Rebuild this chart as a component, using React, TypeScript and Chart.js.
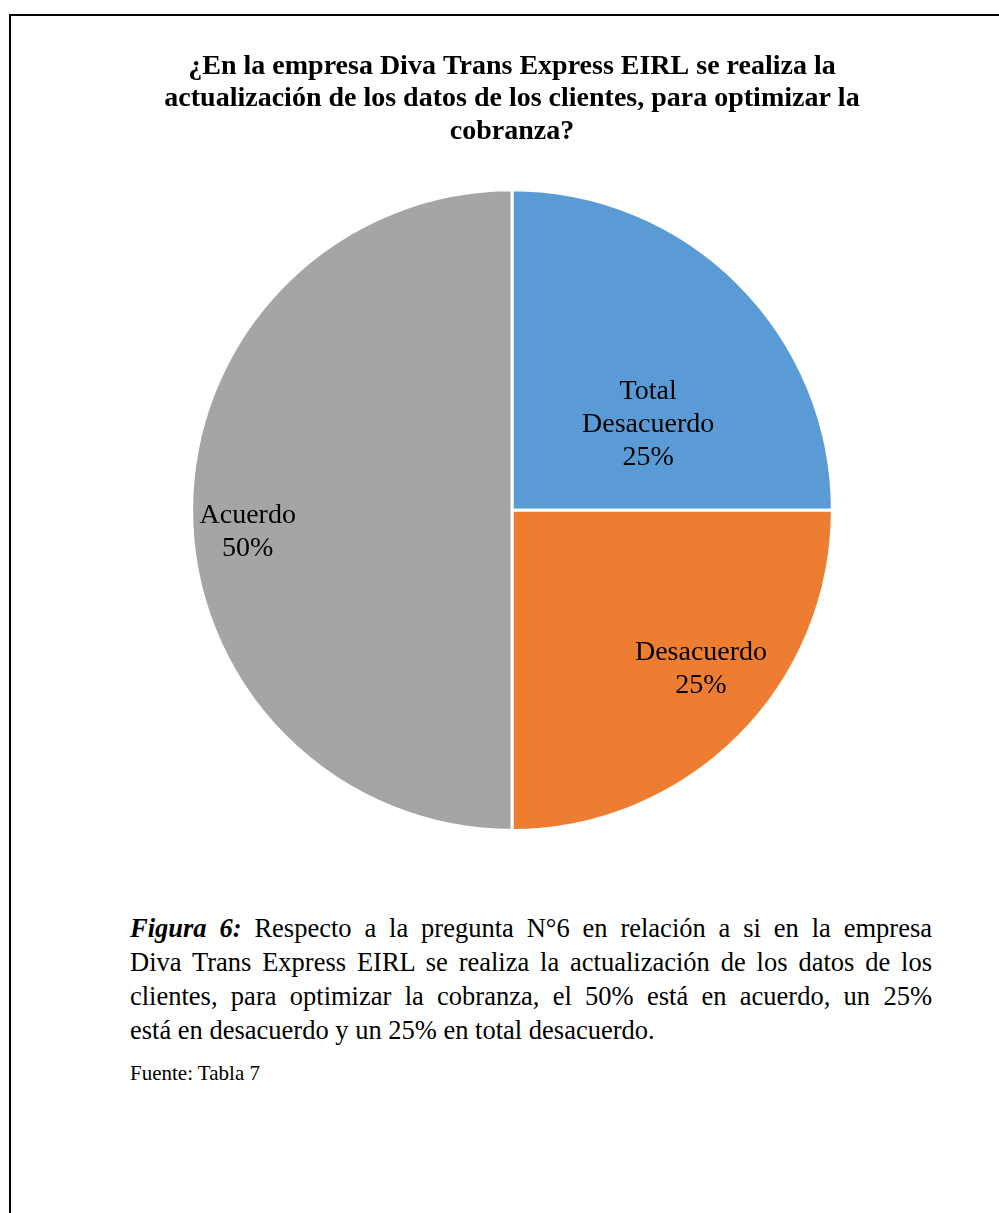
import React, { useEffect, useRef } from "react";
import { Chart, registerables } from "chart.js";

Chart.register(...registerables);

const titleLines = [
  "¿En la empresa Diva Trans Express EIRL se realiza la",
  "actualización de los datos de los clientes, para optimizar la",
  "cobranza?",
];
const categoryLines = [["Total", "Desacuerdo"], ["Desacuerdo"], ["Acuerdo"]];
const categories = categoryLines.map((l) => l.join(" "));
const values = [25, 25, 50];
const colors = ["#5B9BD5", "#ED7D31", "#A5A5A5"];
// label centre offsets as fractions of the pie radius (dx, dy)
const labelOffsetX = [0.425, 0.59, -0.825];
const labelOffsetY = [-0.266, 0.497, 0.069];

const captionLead = "Figura 6:";
const captionLines = [
  " Respecto a la pregunta N°6 en relación a si en la empresa",
  "Diva Trans Express EIRL se realiza la actualización de los datos de los",
  "clientes, para optimizar la cobranza, el 50% está en acuerdo, un 25%",
  "está en desacuerdo y un 25% en total desacuerdo.",
];

const SERIF = '"Liberation Serif", "Times New Roman", serif';

const labelPlugin = {
  id: "sliceLabels",
  afterDatasetsDraw(chart: any) {
    const meta = chart.getDatasetMeta(0);
    const ctx = chart.ctx;
    ctx.save();
    ctx.font = `28px ${SERIF}`;
    ctx.fillStyle = "#000";
    ctx.textAlign = "center";
    ctx.textBaseline = "middle";
    const lh = 33;
    meta.data.forEach((arc: any, i: number) => {
      const r = arc.outerRadius;
      const cx = arc.x + labelOffsetX[i] * r;
      const cy = arc.y + labelOffsetY[i] * r;
      const lines = [...categoryLines[i], `${values[i]}%`];
      const start = cy - ((lines.length - 1) * lh) / 2;
      lines.forEach((t, j) => ctx.fillText(t, cx, start + j * lh));
    });
    ctx.restore();
  },
};

export default function App() {
  const ref = useRef<HTMLCanvasElement>(null);
  useEffect(() => {
    if (!ref.current) return;
    const chart = new Chart(ref.current, {
      type: "pie",
      data: {
        labels: categories,
        datasets: [
          {
            data: values,
            backgroundColor: colors,
            borderColor: "#ffffff",
            borderWidth: 3,
          },
        ],
      },
      options: {
        animation: false,
        responsive: false,
        maintainAspectRatio: false,
        layout: { padding: { top: 0, bottom: 28, left: 0, right: 0 } },
        plugins: {
          legend: { display: false },
          tooltip: { enabled: false },
          title: {
            display: true,
            text: titleLines,
            color: "#000",
            font: { family: SERIF, size: 28, weight: "bold", lineHeight: 1.17 },
            padding: { top: 50, bottom: 40 },
          },
        },
      },
      plugins: [labelPlugin],
    });
    return () => chart.destroy();
  }, []);

  const lineStyle = (last: boolean): React.CSSProperties => ({
    height: 34,
    whiteSpace: "nowrap",
    textAlign: last ? "left" : "justify",
    textAlignLast: last ? "left" : "justify",
  } as React.CSSProperties);

  return (
    <div
      style={{
        position: "absolute",
        left: 0,
        top: 0,
        width: 999,
        height: 1213,
        overflow: "hidden",
        background: "#fff",
      }}
    >
      <div
        style={{
          position: "absolute",
          left: 9,
          top: 14,
          width: 1010,
          height: 1230,
          border: "2px solid #000",
        }}
      />
      <canvas
        ref={ref}
        width={974}
        height={860}
        style={{ position: "absolute", left: 25, top: 0, width: 974, height: 860 }}
      />
      <div
        style={{
          position: "absolute",
          left: 130,
          top: 911,
          width: 802,
          fontFamily: SERIF,
          fontSize: 26.5,
          lineHeight: "34px",
          color: "#000",
        }}
      >
        {captionLines.map((t, i) => (
          <div key={i} style={lineStyle(i === captionLines.length - 1)}>
            {i === 0 ? (
              <b>
                <i>{captionLead}</i>
              </b>
            ) : null}
            {t}
          </div>
        ))}
      </div>
      <div
        style={{
          position: "absolute",
          left: 130,
          top: 1061,
          fontFamily: SERIF,
          fontSize: 21,
          lineHeight: "24px",
          color: "#000",
        }}
      >
        Fuente: Tabla 7
      </div>
    </div>
  );
}
